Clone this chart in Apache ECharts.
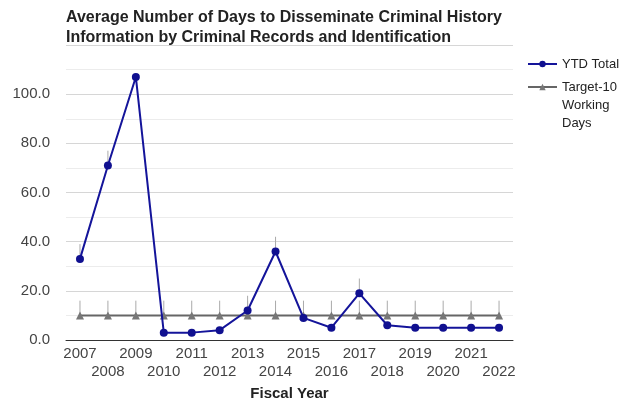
<!DOCTYPE html>
<html>
<head>
<meta charset="utf-8">
<script src="https://cdn.jsdelivr.net/npm/echarts@6/dist/echarts.min.js"></script>
<style>html,body{margin:0;padding:0;background:#fff}#c{width:621px;height:400px}</style>
</head>
<body>
<div id="c"></div>
<script>
var years = ['2007','2008','2009','2010','2011','2012','2013','2014','2015','2016','2017','2018','2019','2020','2021','2022'];
var ytdTotal = [33, 71, 107, 3, 3, 4, 12, 36, 9, 5, 19, 6, 5, 5, 5, 5];
var target = [10, 10, 10, 10, 10, 10, 10, 10, 10, 10, 10, 10, 10, 10, 10, 10];
// faint vertical stems seen above markers: [categoryIndex, from, to]
var stems = [
  [0,10,16],[1,10,16],[2,10,16],[3,10,16],[4,10,16],[5,10,16],[6,10,16],[7,10,16],
  [8,10,16],[9,10,16],[10,10,16],[11,10,16],[12,10,16],[13,10,16],[14,10,16],[15,10,16],
  [0,33,39],[1,71,77],[6,12,18],[7,36,42],[10,19,25]
];

var chart = echarts.init(document.getElementById('c'), null, {renderer:'canvas'});
var FONT = 'Liberation Sans, Arial, sans-serif';
chart.setOption({
  animation: false,
  textStyle: {fontFamily: FONT},
  title: {
    text: 'Average Number of Days to Disseminate Criminal History\nInformation by Criminal Records and Identification',
    left: 66, top: 8, padding: 0,
    textStyle: {fontFamily: FONT, fontSize: 16, fontWeight: 'bold', color: '#222', lineHeight: 20}
  },
  legend: [{
    orient: 'vertical', left: 527, top: 55, padding: 0, itemWidth: 29, itemHeight: 8,
    textStyle: {fontFamily: FONT, fontSize: 13, color: '#222', lineHeight: 18},
    data: ['YTD Total']
  }, {
    orient: 'vertical', left: 527, top: 42, padding: 0, itemWidth: 29, itemHeight: 8,
    textStyle: {fontFamily: FONT, fontSize: 13, color: '#222', lineHeight: 18},
    formatter: function(n){ return ' \n \nTarget-10\nWorking\nDays'; },
    data: ['Target-10 Working Days']
  }],
  grid: {left: 66, right: 108, top: 45, bottom: 60, outerBoundsMode: 'none', containLabel: false},
  xAxis: {
    type: 'category', data: years, boundaryGap: true,
    name: 'Fiscal Year', nameLocation: 'middle', nameGap: 43,
    nameTextStyle: {fontFamily: FONT, fontSize: 15, fontWeight: 'bold', color: '#222'},
    axisLine: {lineStyle: {color: '#333', width: 1}},
    axisTick: {show: false},
    axisLabel: {
      interval: 0, fontSize: 15, color: '#444', margin: 5, lineHeight: 18,
      formatter: function(v, i){ return i % 2 === 1 ? '\n' + v : v; }
    }
  },
  yAxis: {
    type: 'value', min: 0, max: 120, interval: 20,
    axisLine: {show: false}, axisTick: {show: false},
    minorTick: {show: false, splitNumber: 2},
    axisLabel: {
      fontSize: 15, color: '#444', margin: 16,
      formatter: function(v){ return v >= 120 ? '' : v.toFixed(1); }
    },
    splitLine: {lineStyle: {color: '#d6d6d6', width: 1}},
    minorSplitLine: {show: true, lineStyle: {color: '#ececec', width: 1}}
  },
  series: [
    {
      name: 'stems', type: 'custom', silent: true, z: 1,
      data: stems,
      renderItem: function(params, api){
        var a = api.coord([api.value(0), api.value(1)]);
        var b = api.coord([api.value(0), api.value(2)]);
        return {type: 'line', shape: {x1: a[0], y1: a[1], x2: b[0], y2: b[1]},
                style: {stroke: '#aaa', lineWidth: 1}};
      }
    },
    {
      name: 'Target-10 Working Days', type: 'line', data: target, z: 2,
      symbol: 'triangle', symbolSize: 8, showAllSymbol: true,
      lineStyle: {color: '#666', width: 2},
      itemStyle: {color: '#777'}
    },
    {
      name: 'YTD Total', type: 'line', data: ytdTotal, z: 3,
      symbol: 'circle', symbolSize: 8, showAllSymbol: true,
      lineStyle: {color: '#14149a', width: 2},
      itemStyle: {color: '#101090'}
    }
  ]
});
</script>
</body>
</html>
